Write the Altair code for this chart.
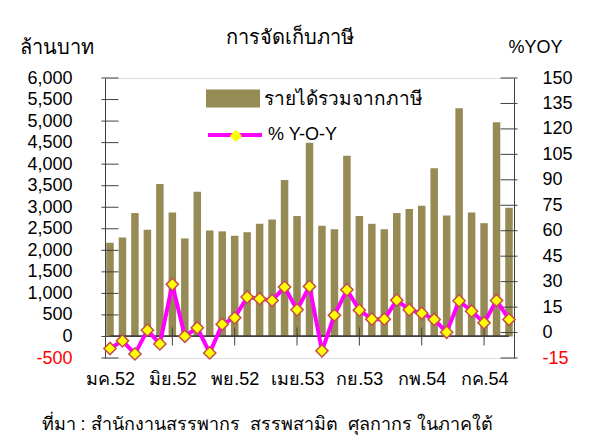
import json
import pandas as pd
import altair as alt

# ---------------- data ----------------
months = ["มค.52", "กพ.52", "มีค.52", "เมย.52", "พค.52", "มิย.52", "กค.52", "สค.52",
          "กย.52", "ตค.52", "พย.52", "ธค.52",
          "มค.53", "กพ.53", "มีค.53", "เมย.53", "พค.53", "มิย.53", "กค.53", "สค.53",
          "กย.53", "ตค.53", "พย.53", "ธค.53",
          "มค.54", "กพ.54", "มีค.54", "เมย.54", "พค.54", "มิย.54", "กค.54", "สค.54",
          "กย.54"]
tax = [2175, 2300, 2865, 2480, 3540, 2880, 2275, 3360, 2460, 2440, 2340, 2420,
       2615, 2715, 3635, 2795, 4495, 2570, 2490, 4195, 2795, 2615, 2490, 2865,
       2960, 3035, 3905, 2810, 5300, 2880, 2630, 4975, 2990]
yoy = [-9.4, -4.9, -12.6, 1.4, -6.7, 28.4, -2.2, 2.8, -12.0, 4.9, 8.7, 20.9,
       19.9, 18.9, 26.8, 13.4, 27.2, -10.8, 10.2, 25.2, 13.2, 7.9, 7.9, 19.1,
       13.4, 11.4, 7.7, 0.2, 18.7, 12.6, 5.7, 18.9, 7.7]
x_tick_idx = [0, 5, 10, 15, 20, 25, 30]
x_cross_ticks = [5, 10, 15, 20, 25, 30]
left_ticks = [-500, 0, 500, 1000, 1500, 2000, 2500, 3000, 3500, 4000, 4500, 5000, 5500, 6000]
right_ticks = [-15, 0, 15, 30, 45, 60, 75, 90, 105, 120, 135, 150]

TITLE = "การจัดเก็บภาษี"
LEFT_TITLE = "ล้านบาท"
RIGHT_TITLE = "%YOY"
SOURCE = "ที่มา : สำนักงานสรรพากร\u00a0 สรรพสามิต\u00a0 ศุลกากร ในภาคใต้"
LEG_BAR = "รายได้รวมจากภาษี"
LEG_LINE = "% Y-O-Y"

# ---------------- style ----------------
FONT = "Liberation Sans, Arial, sans-serif"
BAR = "#968A55"
LINE = "#FF00FF"
MK_FILL = "#FFFF00"
MK_STROKE = "#C0504D"
AX = "#404040"
FS = 18

n = len(months)
df = pd.DataFrame({"i": list(range(n)), "month": months, "tax": tax, "yoy": yoy,
                   "s1": LEG_BAR, "s2": LEG_LINE, "s3": "marker"})
df_xt = pd.DataFrame({"i": x_cross_ticks})
df_lt = pd.DataFrame({"v": left_ticks})
df_rt = pd.DataFrame({"v": right_ticks})

xs = alt.Scale(domain=[0, n - 1], nice=False, zero=False)
yl = alt.Scale(domain=[left_ticks[0], left_ticks[-1]], nice=False, zero=False)
yr = alt.Scale(domain=[right_ticks[0], right_ticks[-1]], nice=False, zero=False)

neg_fmt = "replace(format(datum.value, ','), '\u2212', '-')"
neg_col = {"expr": "datum.value < 0 ? 'red' : 'black'"}

x_axis = alt.Axis(values=x_tick_idx, labelExpr=json.dumps(months, ensure_ascii=False) + "[datum.value]",
                  ticks=False, domain=False, grid=False, labelFontSize=FS, labelFont=FONT,
                  labelColor="black", labelPadding=12, labelOverlap=False,
                  title=SOURCE, titleX=-64, titleY=71, titleAlign="left", titleBaseline="alphabetic",
                  titleFontSize=FS, titleFontWeight="normal", titleFont=FONT, titleColor="black")

left_axis = alt.Axis(orient="left", values=left_ticks, labelExpr=neg_fmt, labelColor=neg_col,
                     ticks=False, domainColor=AX, grid=False, labelFontSize=FS, labelFont=FONT,
                     labelPadding=33, labelOverlap=False,
                     title=LEFT_TITLE, titleAngle=0, titleX=-86, titleY=-25, titleAlign="left",
                     titleBaseline="alphabetic", titleFontSize=FS + 2, titleFontWeight="normal",
                     titleFont=FONT, titleColor="black")

right_axis = alt.Axis(orient="right", values=right_ticks, labelExpr=neg_fmt, labelColor=neg_col,
                      ticks=False, domainColor=AX, grid=False, labelFontSize=FS, labelFont=FONT,
                      labelPadding=28, labelOverlap=False,
                      title=RIGHT_TITLE, titleAngle=0, titleX=-6, titleY=-26, titleAlign="left",
                      titleBaseline="alphabetic", titleFontSize=FS, titleFontWeight="normal",
                      titleFont=FONT, titleColor="black")

leg_common = dict(orient="none", title=None, padding=0, labelFontSize=FS, labelFont=FONT,
                  labelColor="black", labelLimit=0)

bars = alt.Chart(df).mark_bar(size=7.5, clip=True).encode(
    x=alt.X("i:Q", scale=xs, axis=x_axis),
    y=alt.Y("tax:Q", scale=yl, axis=left_axis),
    fill=alt.Fill("s1:N", scale=alt.Scale(domain=[LEG_BAR], range=[BAR]),
                  legend=alt.Legend(legendX=101, legendY=-6.5, symbolType="M-1,-0.333H1V0.333H-1Z",
                                    symbolSize=2916, symbolStrokeWidth=0, labelOffset=4,
                                    **{**leg_common, "labelFontSize": FS + 1})),
)

zero_rule = alt.Chart(df).mark_rule(color=AX, strokeWidth=1).encode(
    x=alt.X(datum=0, scale=xs), x2=alt.X2(datum=n - 1),
    y=alt.Y(datum=0, scale=yl, axis=None),
)

x_ticks = alt.Chart(df_xt).mark_tick(orient="vertical", size=18, thickness=1, color=AX, opacity=1).encode(
    x=alt.X("i:Q", scale=xs),
    y=alt.Y(datum=0, scale=yl, axis=None),
)

l_ticks = alt.Chart(df_lt).mark_tick(orient="horizontal", size=17, thickness=1, color=AX, opacity=1).encode(
    x=alt.X(datum=0, scale=xs),
    y=alt.Y("v:Q", scale=yl, axis=None),
)

r_ticks = alt.Chart(df_rt).mark_tick(orient="horizontal", size=17, thickness=1, color=AX, opacity=1).encode(
    x=alt.X(datum=n - 1, scale=xs),
    y=alt.Y("v:Q", scale=yr, axis=None),
)

line = alt.Chart(df).mark_line(strokeWidth=4).encode(
    x=alt.X("i:Q", scale=xs),
    y=alt.Y("yoy:Q", scale=yr, axis=right_axis),
    stroke=alt.Stroke("s2:N", scale=alt.Scale(domain=[LEG_LINE], range=[LINE]),
                      legend=alt.Legend(legendX=101, legendY=28, symbolType="stroke", symbolSize=2916,
                                        symbolStrokeWidth=4, labelOffset=4, **leg_common)),
)

points = alt.Chart(df).mark_point(filled=True, size=150, fill=MK_FILL, stroke=MK_STROKE,
                                  strokeWidth=1.5, opacity=1).encode(
    x=alt.X("i:Q", scale=xs),
    y=alt.Y("yoy:Q", scale=yr, axis=None),
    shape=alt.Shape("s3:N", scale=alt.Scale(domain=["marker"], range=["diamond"]),
                    legend=alt.Legend(legendX=121.9, legendY=48.9, symbolSize=150,
                                      symbolFillColor=MK_FILL, symbolStrokeColor=MK_STROKE,
                                      symbolStrokeWidth=1.5, labelExpr="''", **leg_common)),
)

chart = alt.layer(bars, zero_rule, x_ticks, l_ticks, r_ticks, line, points).resolve_scale(
    y="independent"
).properties(
    width=409, height=280,
    title=alt.TitleParams(TITLE, anchor="start", frame="group", dx=121, dy=37, offset=10,
                          fontSize=FS + 2, fontWeight="normal", font=FONT, color="black",
                          baseline="alphabetic"),
    autosize=alt.AutoSizeParams(type="none"),
    padding={"left": 97, "top": 70, "right": 69, "bottom": 80},
).configure_view(stroke=None).configure(background="white")

chart.save("out.html", embed_options={"renderer": "svg", "actions": False})
